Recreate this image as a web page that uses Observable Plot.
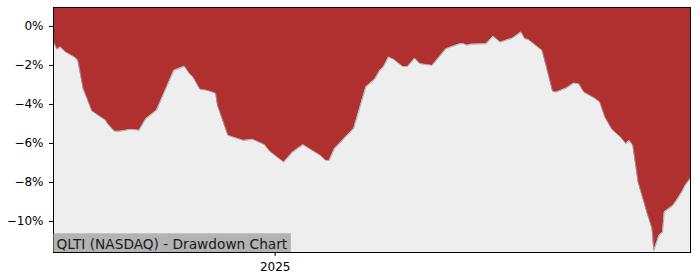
<!DOCTYPE html>
<html>
<head>
<meta charset="utf-8">
<script src="https://cdn.jsdelivr.net/npm/d3@7"></script>
<script src="https://cdn.jsdelivr.net/npm/@observablehq/plot@0.6"></script>
<style>
  html, body { margin: 0; padding: 0; background: #ffffff; }
  #chart { width: 700px; height: 280px; }
</style>
</head>
<body>
<div id="chart"></div>
<script>
const title = "QLTI (NASDAQ) - Drawdown Chart";
const dates = [
  "2024-08-27","2024-08-29","2024-08-31","2024-09-03","2024-09-08","2024-09-10","2024-09-13","2024-09-15",
  "2024-09-18","2024-09-26","2024-09-27","2024-10-01","2024-10-04","2024-10-10","2024-10-12","2024-10-15",
  "2024-10-19","2024-10-25","2024-10-30","2024-11-04","2024-11-10","2024-11-13","2024-11-15","2024-11-19",
  "2024-11-23","2024-11-27","2024-11-28","2024-11-29","2024-12-05","2024-12-14","2024-12-19","2024-12-26",
  "2024-12-29","2025-01-06","2025-01-11","2025-01-17","2025-01-27","2025-01-30","2025-02-01","2025-02-04",
  "2025-02-15","2025-02-22","2025-02-27","2025-03-02","2025-03-04","2025-03-07","2025-03-10","2025-03-15",
  "2025-03-18","2025-03-22","2025-03-25","2025-04-01","2025-04-09","2025-04-17","2025-04-19","2025-04-21",
  "2025-04-23","2025-05-02","2025-05-06","2025-05-10","2025-05-17","2025-05-22","2025-05-24","2025-05-26",
  "2025-06-03","2025-06-06","2025-06-09","2025-06-11","2025-06-17","2025-06-21","2025-06-24","2025-06-27",
  "2025-07-03","2025-07-06","2025-07-09","2025-07-13","2025-07-18","2025-07-21","2025-07-23","2025-07-25",
  "2025-07-28","2025-08-02","2025-08-05","2025-08-06","2025-08-09","2025-08-11","2025-08-12","2025-08-17",
  "2025-08-19","2025-08-22","2025-08-24","2025-08-27"
];
const drawdown = [
  -0.77,-1.18,-1.06,-1.32,-1.57,-1.74,-3.19,-3.63,
  -4.34,-4.82,-4.99,-5.38,-5.38,-5.28,-5.28,-5.33,
  -4.73,-4.31,-3.28,-2.26,-2.04,-2.43,-2.60,-3.23,
  -3.28,-3.40,-3.45,-4.05,-5.59,-5.85,-5.79,-6.07,
  -6.41,-6.96,-6.45,-6.07,-6.62,-6.87,-6.87,-6.27,
  -5.25,-3.11,-2.72,-2.26,-2.09,-1.57,-1.69,-2.05,
  -2.05,-1.63,-1.91,-2.00,-1.14,-0.89,-0.89,-0.97,
  -0.92,-0.89,-0.50,-0.81,-0.60,-0.29,-0.63,-0.67,
  -1.23,-2.26,-3.33,-3.37,-3.16,-2.91,-2.94,-3.38,
  -3.68,-3.88,-4.65,-5.28,-5.68,-6.02,-5.85,-6.10,
  -7.98,-9.52,-10.37,-11.49,-10.72,-10.55,-9.52,-9.18,
  -8.92,-8.50,-8.15,-7.79
];
const yTicks = [0, -2, -4, -6, -8, -10];
const xTicks = ["2025-01-01"];
const xDomain = ["2024-08-27", "2025-08-27"];
const yDomain = [-11.59, 0.97];

const data = dates.map((d, i) => ({date: new Date(d), v: drawdown[i]}));
const fmtPct = d => (d < 0 ? "\u2212" : "") + Math.abs(d) + "%";

const chart = Plot.plot({
  width: 700,
  height: 280,
  marginLeft: 53,
  marginRight: 10,
  marginTop: 7,
  marginBottom: 28,
  style: {fontFamily: "DejaVu Sans", fontSize: "12px", background: "#ffffff", color: "#000000", overflow: "visible"},
  x: {type: "utc", domain: xDomain.map(d => new Date(d))},
  y: {domain: yDomain},
  marks: [
    Plot.frame({fill: "#eeeeee"}),
    Plot.areaY(data, {x: "date", y1: "v", y2: yDomain[1], fill: "#b03030", curve: "linear"}),
    Plot.line(data, {x: "date", y: "v", stroke: "#a0a0a0", strokeWidth: 0.8, curve: "linear"}),
    Plot.frame({stroke: "#000000", strokeWidth: 1}),
    Plot.axisY({ticks: yTicks, tickFormat: fmtPct, tickSize: 4, tickPadding: 6, label: null, fontSize: 12, stroke: "#000"}),
    Plot.axisX({ticks: xTicks.map(d => new Date(d)), tickFormat: d => String(d.getUTCFullYear()), tickSize: 4, tickPadding: 6, label: null, fontSize: 12}),
    Plot.text([title], {frameAnchor: "bottom-left", dx: 3, dy: -4, lineAnchor: "bottom", textAnchor: "start", fontSize: 13.7, fill: "#1a1a1a", text: d => d})
  ]
});
document.getElementById("chart").appendChild(chart);

// grey label box behind the title text
const titleNode = Array.from(chart.querySelectorAll("text")).find(t => t.textContent === title);
if (titleNode) {
  const bb = titleNode.getBBox();
  const g = titleNode.closest("g");
  const rect = document.createElementNS("http://www.w3.org/2000/svg", "rect");
  rect.setAttribute("x", 53.5);
  rect.setAttribute("y", 233.3);
  rect.setAttribute("width", bb.width + 6);
  rect.setAttribute("height", 252 - 233.3);
  rect.setAttribute("fill", "#b3b3b3");
  g.parentNode.insertBefore(rect, g);
}
</script>
</body>
</html>
